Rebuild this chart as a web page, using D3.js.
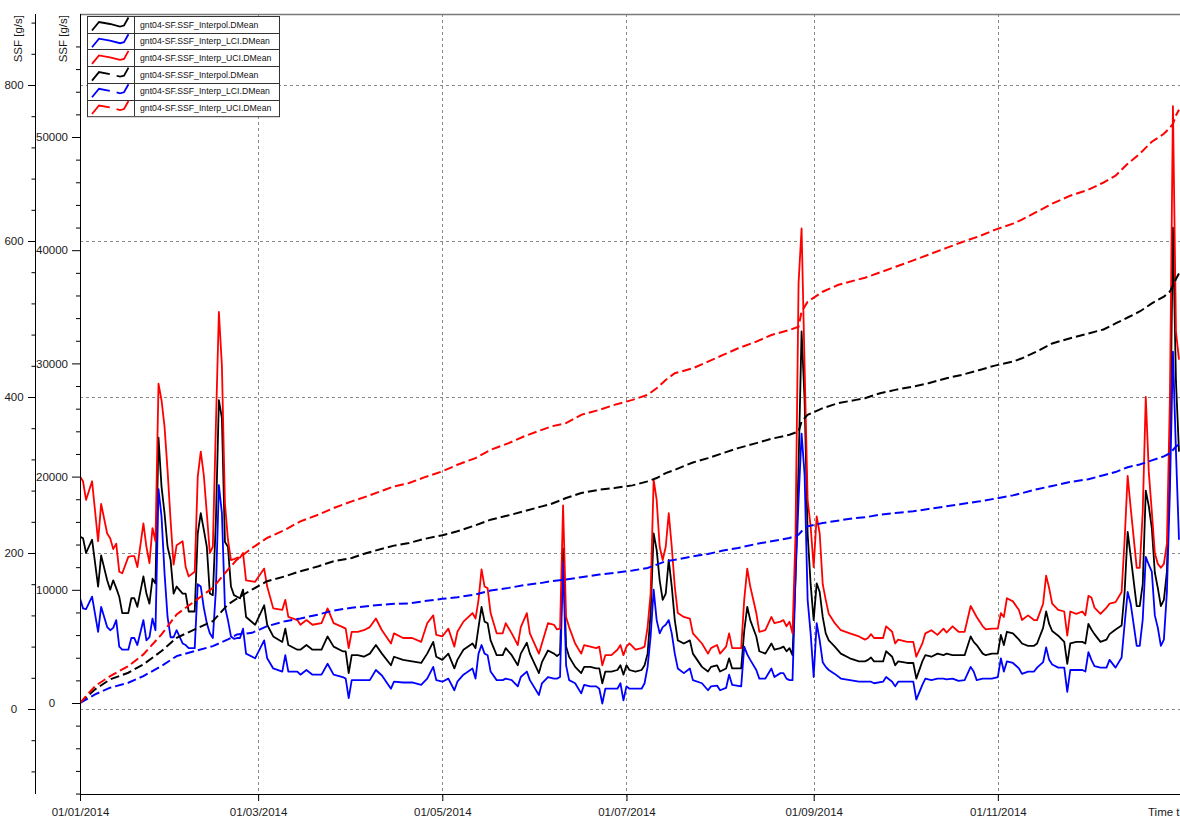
<!DOCTYPE html>
<html><head><meta charset="utf-8">
<script src="https://cdn.jsdelivr.net/npm/d3@7"></script>
<style>
body{margin:0;background:#fff;}
svg{display:block;font-family:"Liberation Sans",Arial,sans-serif;}
</style></head><body>
<svg id="chart" width="1180" height="820"></svg>
<script>
// ---------- DATA ----------
const startDate = "2014-01-01";
const endDate = "2015-01-01";
const seriesLabels = [
  "gnt04-SF.SSF_Interpol.DMean",
  "gnt04-SF.SSF_Interp_LCI.DMean",
  "gnt04-SF.SSF_Interp_UCI.DMean",
  "gnt04-SF.SSF_Interpol.DMean",
  "gnt04-SF.SSF_Interp_LCI.DMean",
  "gnt04-SF.SSF_Interp_UCI.DMean"
];
const seriesColors = ["#000000","#0000ff","#ff0000","#000000","#0000ff","#ff0000"];
const seriesDashed = [false,false,false,true,true,true];
const dateTicks = ["2014-01-01","2014-03-01","2014-05-01","2014-07-01","2014-09-01","2014-11-01"];
const flowTicks = [0,200,400,600,800];
const cumTicks = [0,10000,20000,30000,40000,50000];

// daily mean series (day offset from 1 Jan 2014)
const dailyDays = [0,1,2,4,6,7,9,10,11,12,13,14,16,17,18,19,21,22,23,24,25,26,27,28,29,30,31,32,34,35,36,38,39,40,41,42,43,44,45,46,47,48,49,50,51,52,
53,54,55,58,61,62,64,67,68,69,72,73,75,77,80,82,84,87,88,89,90,92,94,96,98,100,103,104,
107,110,113,115,117,118,120,122,124,125,127,130,131,132,133,134,135,136,138,140,141,143,145,146,148,149,152,153,155,
157,158,159,160,161,162,164,166,167,169,171,172,173,174,176,178,179,180,181,182,184,186,187,188,189,190,191,192,193,194,195,196,197,198,200,202,203,206,208,
209,211,212,214,215,216,219,220,221,222,224,225,227,229,230,232,233,234,235,236,237,238,239,240,241,242,243,244,245,246,247,248,250,252,255,258,260,
261,262,263,266,267,269,270,271,274,276,277,279,280,282,284,286,287,289,291,293,295,296,297,299,300,302,304,305,306,307,309,311,
312,314,316,317,319,320,321,322,324,326,327,328,330,332,333,334,335,336,338,340,341,343,345,346,347,348,350,351,352,353,354,355,356,357,358,359,360,361,362,363,364];

const interpolValues = [221,219,200,217,157,197,165,153,165,155,144,123,123,142,142,131,170,148,135,167,161,348,285,251,208,191,148,157,148,148,125,125,225,251,230,208,148,146,240,396,373,214,208,157,146,144,
142,153,118,108,133,108,93,86,103,82,76,76,82,76,76,93,80,74,74,46,69,69,67,71,82,71,56,67,
63,61,59,71,86,67,63,71,52,63,76,84,78,105,131,112,110,88,69,69,78,69,56,71,85,71,46,60,75,
71,68,71,206,80,67,54,46,54,54,52,52,33,48,48,50,56,44,56,50,48,50,56,71,123,225,204,165,140,148,191,157,114,88,84,88,71,54,48,
54,56,48,52,65,52,52,100,131,114,93,74,71,84,76,78,80,74,78,69,170,311,484,396,225,160,114,161,150,118,97,88,80,71,65,61,61,
63,66,61,61,74,67,56,61,59,59,39,61,69,67,71,69,71,69,69,69,93,86,82,71,69,71,71,95,82,99,97,89,
84,81,81,84,104,125,109,100,94,86,58,84,86,86,84,109,102,96,86,89,96,102,107,150,227,196,132,132,160,280,260,232,175,155,132,140,176,320,617,420,330];

const uciValues = [298,292,268,292,215,263,225,219,205,212,176,174,195,196,196,182,238,208,187,232,215,417,396,362,306,242,185,210,215,182,170,176,298,330,300,251,200,208,362,509,440,264,217,191,192,194,
194,200,165,163,180,157,129,127,140,118,114,108,114,108,110,129,110,105,103,78,99,99,101,105,116,101,84,97,
91,91,86,110,120,95,93,103,80,99,112,123,116,140,179,157,155,123,97,97,110,97,82,105,123,97,71,84,110,
108,102,103,261,118,105,84,71,82,80,78,80,56,69,69,76,82,69,80,84,76,78,80,105,148,294,268,208,191,208,251,208,157,123,118,116,97,84,71,
78,82,71,80,97,78,78,140,180,157,123,99,101,118,110,112,114,106,112,97,225,546,616,439,268,234,182,247,225,160,140,122,110,101,97,93,89,
91,96,91,91,106,99,84,89,86,86,67,84,97,101,95,103,98,106,99,99,132,125,118,106,102,103,103,123,118,142,138,127,
114,120,114,114,135,171,155,135,127,125,94,125,122,125,120,145,143,130,122,130,135,137,150,217,299,258,181,181,253,400,304,253,200,186,181,186,212,400,773,484,448];

const lciValues = [142,129,128,144,99,131,105,101,104,114,80,76,76,91,91,82,114,88,92,116,101,282,247,174,118,92,92,101,84,82,78,78,160,157,130,110,97,91,152,287,251,131,114,93,90,91,
91,103,71,65,88,65,52,48,69,48,48,44,50,44,44,58,44,41,39,14,37,37,37,37,50,43,26,35,
34,34,31,39,54,37,35,39,24,35,44,52,39,71,82,71,69,48,37,37,39,37,29,41,48,37,18,33,41,
39,39,41,189,56,37,33,20,31,29,29,26,7,26,26,26,33,11,29,26,26,26,33,54,93,153,114,97,105,108,114,97,71,52,46,52,37,33,24,
29,30,24,27,44,31,29,80,70,63,50,39,39,52,41,46,46,39,37,37,170,268,353,300,140,97,41,110,88,60,54,50,45,39,37,35,35,
35,35,33,35,41,35,29,35,35,35,12,31,39,37,39,39,38,39,36,37,54,48,37,39,39,39,41,65,48,61,59,52,
45,48,48,53,60,79,63,57,53,53,22,50,50,50,48,73,63,55,53,53,63,53,66,109,150,135,81,81,115,195,185,176,120,104,81,89,150,280,458,330,217];

// cumulative series (right-hand inner axis)
const cumDays = [0,5,10,16,21,27,32,38,44,49,52,57,62,68,73,79,84,90,95,101,104,109,114,120,125,131,136,142,147,153,156,161,166,172,177,183,188,191,194,197,203,208,213,218,224,229,235,238,239,241,246,251,257,260,265,270,276,281,287,292,298,303,309,312,317,322,328,334,339,343,347,351,355,359,361,362,363,364];
const cumInterpol = [0,1205,2087,2675,3410,4586,5761,6496,7231,8701,9230,10023,10758,11199,11640,12081,12522,12816,13257,13698,13903,14139,14491,14815,15168,15697,16196,16578,16931,17372,17578,18107,18548,18842,18989,19224,19577,19871,20312,20600,21250,21634,22075,22516,22957,23340,23692,23986,24868,25456,26043,26484,26778,26925,27366,27660,27954,28248,28689,28983,29424,29806,30160,30450,31058,31764,32222,32646,32998,33527,34056,34585,35300,35900,36349,36878,37450,37950];
const cumLci = [0,764,1352,1793,2381,3263,4145,4586,5026,5614,6055,6202,6790,7231,7466,7819,8172,8407,8554,8701,8760,8800,8995,9200,9347,9583,9935,10170,10406,10611,10758,10906,11111,11346,11493,11699,11934,12228,12522,12650,12960,13168,13463,13698,14050,14286,14580,14874,15168,15608,15903,16108,16343,16402,16637,16784,16931,17137,17372,17578,17813,18048,18342,18536,18889,19171,19524,19771,20123,20400,20829,21076,21429,21781,22063,22350,22650,22850];
const cumUci = [0,1500,2380,3263,4292,6055,7819,8995,10170,11787,12669,13698,14580,15315,16049,16637,17225,17813,18254,18842,19136,19430,19929,20459,21046,21634,22369,22957,23545,24133,24427,24721,25456,25897,26337,26778,27219,27807,28542,29130,29571,30159,30747,31334,31922,32510,32951,33245,34568,35450,36332,36920,37361,37566,38040,38520,39100,39600,40200,40700,41250,41800,42350,42700,43404,44109,44815,45344,45979,46578,47637,48519,49577,50282,50811,51164,51900,52400];

// ---------- CHART ----------
const svg = d3.select("#chart");
const FONT = "'Liberation Sans', Arial, sans-serif";
const L = 80, R = 1180, T = 14, B = 794;

const parse = d3.utcParse("%Y-%m-%d");
const dayToDate = d => d3.utcDay.offset(parse(startDate), d);
const x = d3.scaleUtc().domain([parse(startDate), parse(endDate)]).range([80, 1182]);
const yFlow = d3.scaleLinear().domain([0, 800]).range([709, 85]);
const yCum = d3.scaleLinear().domain([0, 50000]).range([703, 137]);

// grid
const grid = svg.append("g").attr("stroke", "#8a8a8a").attr("stroke-width", 1).attr("stroke-dasharray", "3,3");
grid.selectAll("line.h").data(flowTicks).join("line").attr("class","h")
  .attr("x1", L).attr("x2", R)
  .attr("y1", d => Math.round(yFlow(d)) + 0.5).attr("y2", d => Math.round(yFlow(d)) + 0.5);
grid.selectAll("line.v").data(dateTicks.slice(1)).join("line").attr("class","v")
  .attr("x1", d => Math.round(x(parse(d))) + 0.5).attr("x2", d => Math.round(x(parse(d))) + 0.5)
  .attr("y1", T).attr("y2", B + 7);

// top border
svg.append("line").attr("x1", L).attr("x2", R).attr("y1", T + 0.5).attr("y2", T + 0.5)
  .attr("stroke", "#7a7a7a").attr("stroke-width", 1.5);

// clip
svg.append("clipPath").attr("id", "clip").append("rect")
  .attr("x", L).attr("y", T).attr("width", R - L).attr("height", B - T);

const plotG = svg.append("g").attr("clip-path", "url(#clip)");

const dailySets = [interpolValues, lciValues, uciValues];
const cumSets = [cumInterpol, cumLci, cumUci];

const lineFlow = d3.line().x(d => x(dayToDate(d[0]))).y(d => yFlow(d[1]));
const lineCum = d3.line().x(d => x(dayToDate(d[0]))).y(d => yCum(d[1]));

dailySets.forEach((vals, i) => {
  plotG.append("path")
    .datum(dailyDays.map((d, k) => [d, vals[k]]))
    .attr("fill", "none").attr("stroke", seriesColors[i]).attr("stroke-width", 1.8)
    .attr("stroke-linejoin", "round")
    .attr("d", lineFlow);
});
cumSets.forEach((vals, i) => {
  plotG.append("path")
    .datum(cumDays.map((d, k) => [d, vals[k]]))
    .attr("fill", "none").attr("stroke", seriesColors[i + 3]).attr("stroke-width", 2)
    .attr("stroke-dasharray", "9,4")
    .attr("d", lineCum);
});

// outer (left) axis
const outer = svg.append("g").attr("transform", "translate(35,0)");
outer.call(d3.axisLeft(yFlow).tickValues(flowTicks).tickSize(7).tickFormat(d3.format("d")));
outer.select(".domain").remove();
outer.selectAll("text").attr("x", -21).attr("text-anchor", "middle")
  .attr("font-size", 11.5).attr("font-family", FONT).attr("fill", "#1a1a1a");
const outerMinor = svg.append("g").attr("transform", "translate(35,0)");
outerMinor.call(d3.axisLeft(yFlow).tickValues(d3.range(-80, 881, 40).filter(v => v % 200 !== 0)).tickSize(3.5).tickFormat(""));
outerMinor.select(".domain").remove();
svg.append("line").attr("x1", 35.5).attr("x2", 35.5).attr("y1", T).attr("y2", B).attr("stroke", "#000");

// inner axis
const inner = svg.append("g").attr("transform", "translate(80,0)");
inner.call(d3.axisLeft(yCum).tickValues(cumTicks).tickSize(8).tickFormat(d3.format("d")));
inner.select(".domain").remove();
inner.selectAll("text").attr("x", -28).attr("text-anchor", "middle")
  .attr("font-size", 11.5).attr("font-family", FONT).attr("fill", "#1a1a1a");
const innerMinor = svg.append("g").attr("transform", "translate(80,0)");
innerMinor.call(d3.axisLeft(yCum).tickValues(d3.range(-8000, 60001, 2000).filter(v => v % 10000 !== 0)).tickSize(4).tickFormat(""));
innerMinor.select(".domain").remove();
svg.append("line").attr("x1", 80.5).attr("x2", 80.5).attr("y1", T).attr("y2", B).attr("stroke", "#000");

// axis titles
[[22, "SSF [g/s]"], [67, "SSF [g/s]"]].forEach(([tx, t]) => {
  svg.append("text").attr("transform", `translate(${tx},15) rotate(-90)`)
    .attr("text-anchor", "end").attr("font-size", 11.5).attr("font-family", FONT)
    .attr("fill", "#1a1a1a").text(t);
});

// bottom axis
const xAxis = svg.append("g").attr("transform", `translate(0,${B})`);
xAxis.call(d3.axisBottom(x).tickValues(dateTicks.map(parse)).tickSize(7).tickFormat(d3.utcFormat("%d/%m/%Y")));
xAxis.select(".domain").remove();
xAxis.selectAll("text").attr("y", 14).attr("dy", "0.71em")
  .attr("font-size", 11.5).attr("font-family", FONT).attr("fill", "#1a1a1a");
svg.append("line").attr("x1", L).attr("x2", R).attr("y1", B + 0.5).attr("y2", B + 0.5).attr("stroke", "#000").attr("stroke-width", 1.2);
svg.append("text").attr("x", 1148).attr("y", 816).attr("font-size", 11.5)
  .attr("font-family", FONT).attr("fill", "#1a1a1a").text("Time t");

// legend
const lg = svg.append("g");
const lgX = 87, lgY = 16, lgW = 192, rowH = 16.7, colX = 134;
lg.append("rect").attr("x", lgX + 0.5).attr("y", lgY + 0.5).attr("width", lgW).attr("height", rowH * 6)
  .attr("fill", "#fff").attr("stroke", "#333").attr("stroke-width", 1);
lg.append("line").attr("x1", colX + 0.5).attr("x2", colX + 0.5).attr("y1", lgY).attr("y2", lgY + rowH * 6)
  .attr("stroke", "#333");
const iconShape = [[5, 14.5], [12, 6], [23, 8], [33, 10.5], [37, 9.5], [41.5, 1.5]];
const iconLine = d3.line().x(d => lgX + d[0]).y(d => d[1]);
seriesLabels.forEach((lab, i) => {
  const ry = lgY + i * rowH;
  if (i > 0) lg.append("line").attr("x1", lgX).attr("x2", lgX + lgW).attr("y1", Math.round(ry) + 0.5).attr("y2", Math.round(ry) + 0.5).attr("stroke", "#333");
  lg.append("path").attr("d", iconLine(iconShape.map(p => [p[0], ry + p[1]])))
    .attr("fill", "none").attr("stroke", seriesColors[i]).attr("stroke-width", 1.8)
    .attr("stroke-dasharray", seriesDashed[i] ? "22,7" : null);
  lg.append("text").attr("x", 140).attr("y", ry + rowH / 2 + 3.2)
    .attr("font-size", 8.7).attr("font-family", FONT).attr("fill", "#111").text(lab);
});
</script>
</body></html>
